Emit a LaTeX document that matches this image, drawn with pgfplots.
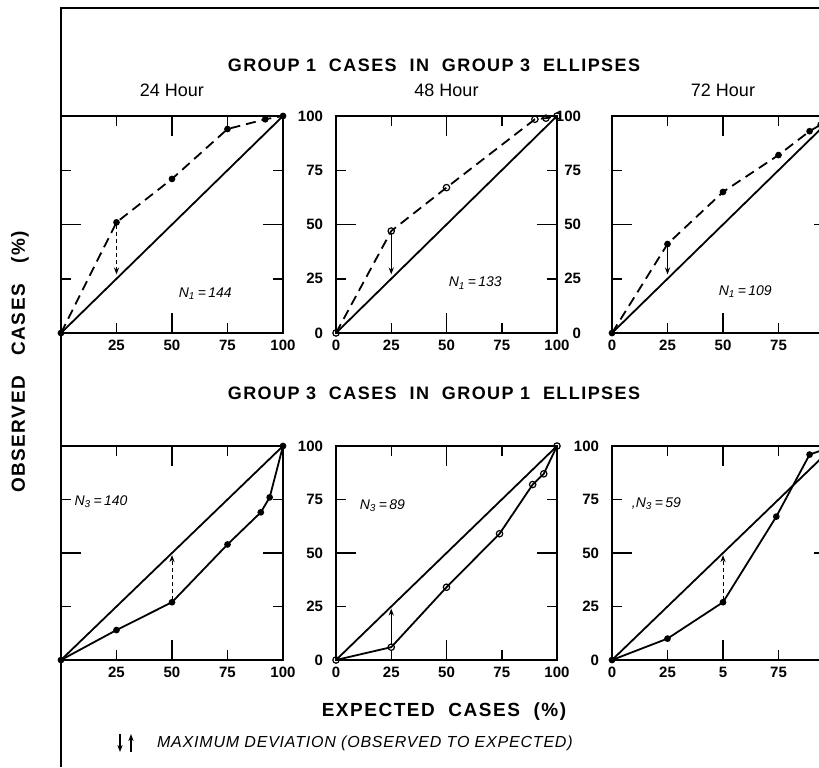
\documentclass[border=0pt]{standalone}
\usepackage{fontspec}
\setmainfont{Liberation Sans}
\newfontfamily\spaced[LetterSpace=8]{Liberation Sans}
\newfontfamily\spacedsm[LetterSpace=5]{Liberation Sans}
\usepackage{pgfplots}
\pgfplotsset{compat=1.18}
\usetikzlibrary{arrows.meta}
\tikzset{nlab/.style={font=\itshape\fontsize{7}{8}\selectfont}}
\pgfplotsset{
  panel/.style={
    scale only axis, width=111pt, height=108.5pt, anchor=south west,
    xmin=0, xmax=100, ymin=0, ymax=100,
    xtick={0,25,50,75,100}, ytick={0,25,50,75,100},
    tick align=inside, major tick length=5pt,
    every tick/.append style={line width=0.75pt, black},
    axis line style={line width=1.2pt},
    extra x ticks={50}, extra y ticks={50},
    extra x tick labels={}, extra y tick labels={},
    extra tick style={major tick length=10pt},
    tick label style={font=\bfseries\fontsize{7.5}{9}\selectfont},
    /pgf/number format/assume math mode=true,
    yticklabel style={xshift=-3pt},
    clip=false,
  },
  diag/.style={line width=0.9pt, black, mark=none},
  obsdash/.style={line width=0.9pt, black, dash pattern=on 5pt off 3pt, mark=*, mark size=1.2pt, mark options={solid}},
  obsdasho/.style={line width=0.9pt, black, dash pattern=on 5pt off 3pt, mark=o, mark size=1.6pt, mark options={solid, fill=white, line width=0.6pt}},
  obssolid/.style={line width=0.9pt, black, mark=*, mark size=1.2pt},
  obssolido/.style={line width=0.9pt, black, mark=o, mark size=1.6pt, mark options={fill=white, line width=0.6pt}},
  devs/.style={line width=0.5pt, black, mark=none, -{Stealth[length=3.5pt,width=2.6pt]}},
  devd/.style={line width=0.5pt, black, mark=none, dash pattern=on 2pt off 1.5pt, -{Stealth[length=3.5pt,width=2.6pt]}},
}
\begin{document}
\begin{tikzpicture}
\path[use as bounding box] (0,0) rectangle (409.5pt,383.5pt);
\clip (0,0) rectangle (409.5pt,383.5pt);
% frame
\draw[line width=0.8pt] (30.5pt,0pt) -- (30.5pt,379.5pt) -- (409.5pt,379.5pt);
% titles
\node[font=\spaced\bfseries\fontsize{9}{11}\selectfont] at (217pt,351pt) {GROUP 1\ \ CASES\ \ IN\ \ GROUP 3\ \ ELLIPSES};
\node[font=\fontsize{9}{11}\selectfont] at (86pt,338.5pt) {24 Hour};
\node[font=\fontsize{9}{11}\selectfont] at (223.25pt,338.5pt) {48 Hour};
\node[font=\fontsize{9}{11}\selectfont] at (361.5pt,338.5pt) {72 Hour};
\node[font=\spaced\bfseries\fontsize{9}{11}\selectfont] at (217pt,187pt) {GROUP 3\ \ CASES\ \ IN\ \ GROUP 1\ \ ELLIPSES};
\node[font=\spaced\bfseries\fontsize{9.5}{11}\selectfont] at (222pt,27.5pt) {EXPECTED\ \ CASES\ \ (\%)};
\node[rotate=90, font=\spaced\bfseries\fontsize{9.5}{11}\selectfont] at (10pt,202.5pt) {OBSERVED\ \ \ CASES\ \ \ (\%)};
\draw[line width=0.6pt, -{Stealth[length=3.5pt,width=2.6pt]}] (60pt,16.5pt) -- (60pt,7.5pt);
\draw[line width=0.6pt, -{Stealth[length=3.5pt,width=2.6pt]}] (65.5pt,7.5pt) -- (65.5pt,16.5pt);
\node[anchor=west, font=\spacedsm\itshape\fontsize{8}{9}\selectfont] at (75pt,12pt) {MAXIMUM DEVIATION (OBSERVED TO EXPECTED)};

% ---------- top row ----------
\begin{axis}[panel, at={(30.5pt,217pt)}, xticklabels={,25,50,75,100}, yticklabels={}]
\addplot[diag] coordinates {(0,0) (100,100)};
\addplot[obsdash] coordinates {(0,0) (25,51) (50,71) (75,94) (92,98.5) (100,100)};
\addplot[devd] coordinates {(25,50) (25,27)};
\node[nlab] at (axis cs:65,18) {N\textsubscript{1}\,=\,144};
\end{axis}

\begin{axis}[panel, at={(168pt,217pt)}, width=110.5pt, xticklabels={0,25,50,75,100}, yticklabels={0,25,50,75,100}]
\addplot[diag] coordinates {(0,0) (100,100)};
\addplot[obsdasho] coordinates {(0,0) (25,47) (50,67) (90,98.5) (95,99) (100,100)};
\addplot[devs] coordinates {(25,46) (25,27)};
\node[nlab] at (axis cs:63,23) {N\textsubscript{1}\,=\,133};
\end{axis}

\begin{axis}[panel, at={(306pt,217pt)}, xticklabels={0,25,50,75,}, yticklabels={0,25,50,75,100}, yticklabel style={xshift=-9pt}]
\addplot[diag] coordinates {(0,0) (100,100)};
\addplot[obsdash] coordinates {(0,0) (25,41) (50,65) (75,82) (89,93) (94,96) (100,100)};
\addplot[devs] coordinates {(25,40) (25,27)};
\node[nlab] at (axis cs:60,19) {N\textsubscript{1}\,=\,109};
\end{axis}

% ---------- bottom row ----------
\begin{axis}[panel, at={(30.5pt,53.5pt)}, height=107pt, xticklabels={,25,50,75,100}, yticklabels={}]
\addplot[diag] coordinates {(0,0) (100,100)};
\addplot[obssolid] coordinates {(0,0) (25,14) (50,27) (75,54) (90,69) (94,76) (100,100)};
\addplot[devd] coordinates {(50,28) (50,49)};
\node[nlab] at (axis cs:18,74) {N\textsubscript{3}\,=\,140};
\end{axis}

\begin{axis}[panel, at={(168pt,53.5pt)}, width=110.5pt, height=107pt, xticklabels={0,25,50,75,100}, yticklabels={0,25,50,75,100}]
\addplot[diag] coordinates {(0,0) (100,100)};
\addplot[obssolido] coordinates {(0,0) (25,6) (50,34) (74,59) (89,82) (94,87) (100,100)};
\addplot[devs] coordinates {(25,7) (25,24)};
\node[nlab] at (axis cs:21,72) {N\textsubscript{3}\,=\,89};
\end{axis}

\begin{axis}[panel, at={(306pt,53.5pt)}, height=107pt, xticklabels={0,25,5,75,}, yticklabels={0,25,50,75,100}]
\addplot[diag] coordinates {(0,0) (100,100)};
\addplot[obssolid] coordinates {(0,0) (25,10) (50,27) (74,67) (89,96) (100,100)};
\addplot[devd] coordinates {(50,28) (50,49)};
\node[nlab] at (axis cs:20,73) {,N\textsubscript{3}\,=\,59};
\end{axis}
\end{tikzpicture}
\end{document}
